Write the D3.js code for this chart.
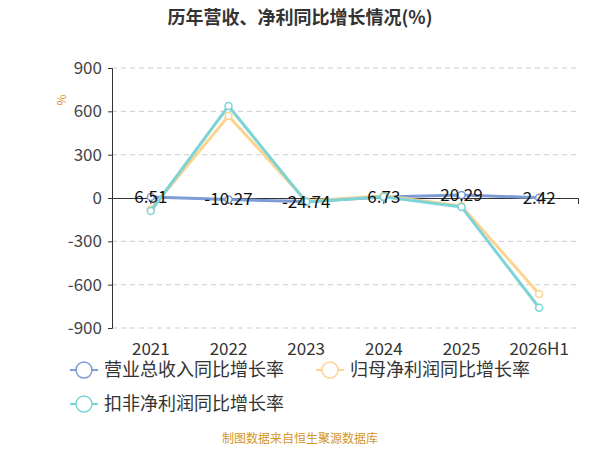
<!DOCTYPE html>
<html><head><meta charset="UTF-8">
<script src="https://d3js.org/d3.v7.min.js"></script>
<style>body{margin:0;background:#fff;font-family:"Noto Sans CJK SC","Noto Sans",sans-serif}</style>
</head><body><div id="chart"></div>
<script>
const years = ["2021","2022","2023","2024","2025","2026H1"];
const revenue = [6.51,-10.27,-24.74,6.73,20.29,2.42];
const netProfit = [-80,568,-20,15,-55,-665];
const deductProfit = [-90,637,-28,8,-62,-760];
const yTicks = [-900,-600,-300,0,300,600,900];
const seriesNames = ["营业总收入同比增长率","归母净利润同比增长率","扣非净利润同比增长率"];
const colors = ["#7d9bd6","#fdd48f","#7dd3d6"];

const W=600,H=450, m={left:112,right:22,top:68,bottom:122};
const svg=d3.select("#chart").append("svg").attr("width",W).attr("height",H);
svg.append("text").attr("x",300).attr("y",24).attr("text-anchor","middle")
  .attr("font-size",18).attr("font-weight","bold").attr("fill","#333").text("历年营收、净利同比增长情况(%)");

const x=d3.scaleBand().domain(years).range([m.left,W-m.right]);
const y=d3.scaleLinear().domain([-900,900]).range([H-m.bottom,m.top]);

svg.append("g").selectAll("line").data(yTicks.filter(d=>d!==0)).join("line")
  .attr("x1",m.left).attr("x2",W-m.right).attr("y1",d=>y(d)).attr("y2",d=>y(d))
  .attr("stroke","#ccc").attr("stroke-dasharray","5,4");
const ya=svg.append("g").attr("transform",`translate(${m.left},0)`)
  .call(d3.axisLeft(y).tickValues(yTicks).tickFormat(d=>String(d)).tickSize(4).tickPadding(6));
ya.selectAll("text").attr("font-size",17).attr("fill","#444").attr("font-family","Noto Sans CJK SC");
ya.selectAll("path,line").attr("stroke","#333");
svg.append("text").attr("transform",`translate(66,100) rotate(-90)`).attr("text-anchor","middle")
  .attr("font-size",12).attr("fill","#e0912f").text("%");

const xa=svg.append("g").attr("transform",`translate(0,${y(0)})`)
  .call(d3.axisBottom(x).tickSize(6).tickFormat(""));
xa.selectAll("path,line").attr("stroke","#333");
svg.append("g").selectAll("text").data(years).join("text")
  .attr("x",d=>x(d)+x.bandwidth()/2).attr("y",H-m.bottom+27).attr("text-anchor","middle")
  .attr("font-size",17).attr("fill","#333").text(d=>d);

const line=d3.line().x((d,i)=>x(years[i])+x.bandwidth()/2).y(d=>y(d));
[revenue,netProfit,deductProfit].forEach((s,k)=>{
  svg.append("path").datum(s).attr("d",line).attr("fill","none").attr("stroke",colors[k]).attr("stroke-width",3);
  svg.append("g").selectAll("circle").data(s).join("circle")
    .attr("cx",(d,i)=>x(years[i])+x.bandwidth()/2).attr("cy",d=>y(d)).attr("r",3.5)
    .attr("fill","#fff").attr("stroke",colors[k]).attr("stroke-width",1.5);
});
svg.append("g").selectAll("text").data(revenue).join("text")
  .attr("x",(d,i)=>x(years[i])+x.bandwidth()/2).attr("y",d=>y(d)+6).attr("text-anchor","middle")
  .attr("font-size",17).attr("fill","#111").text(d=>d);

const leg=[[0,84,370],[1,330,370],[2,84,404]];
leg.forEach(([k,lx,ly])=>{
  const g=svg.append("g").attr("transform",`translate(${lx},${ly})`);
  g.append("line").attr("x1",-14).attr("x2",14).attr("stroke",colors[k]).attr("stroke-width",2);
  g.append("circle").attr("r",8).attr("fill","#fff").attr("stroke",colors[k]).attr("stroke-width",1.5);
  g.append("text").attr("x",20).attr("y",6).attr("font-size",18).attr("fill","#333").text(seriesNames[k]);
});
svg.append("text").attr("x",300).attr("y",443).attr("text-anchor","middle")
  .attr("font-size",12).attr("fill","#d4961f").text("制图数据来自恒生聚源数据库");
</script></body></html>
